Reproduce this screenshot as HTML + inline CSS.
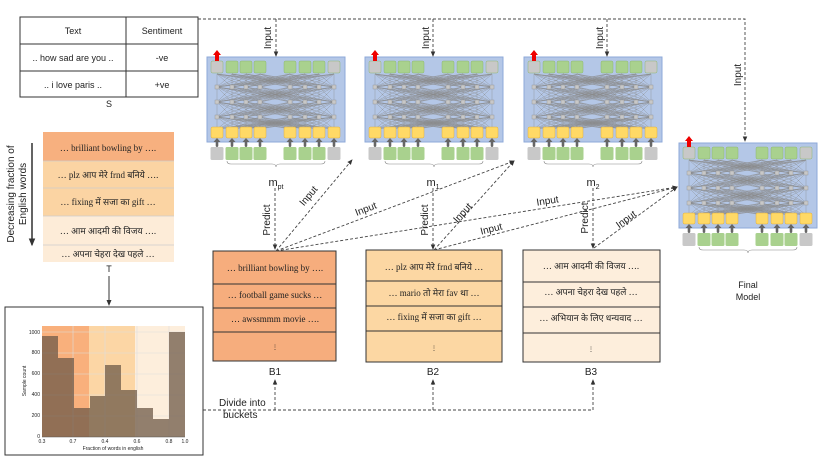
<!DOCTYPE html>
<html><head><meta charset="utf-8"><style>
html,body{margin:0;padding:0;background:#fff}
svg{display:block}
text{font-family:"Liberation Sans","Noto Sans CJK SC",sans-serif;fill:#222}
.dv{font-family:"Liberation Serif","Noto Sans CJK SC",serif}
</style></head><body>
<svg id="s" width="822" height="463" viewBox="0 0 822 463" xmlns="http://www.w3.org/2000/svg">
<defs>
<marker id="ah" markerWidth="6" markerHeight="6" refX="5" refY="3" orient="auto"><path d="M0,0.5 L6,3 L0,5.5 z" fill="#333"/></marker>
<g id="bert">
 <rect x="0" y="0" width="138" height="85" fill="#b4c7e7" stroke="#8ea9d8" stroke-width="1"/>
 <g id="net" stroke="#8a8a8a" stroke-width="0.35"></g>
 <g id="sq"></g>
</g>
</defs>

<!-- Table S -->
<g stroke="#333" stroke-width="1" fill="none">
<rect x="20" y="17" width="178" height="80"/>
<line x1="126" y1="17" x2="126" y2="97"/>
<line x1="20" y1="44" x2="198" y2="44"/>
<line x1="20" y1="71" x2="198" y2="71"/>
</g>
<g font-size="9" text-anchor="middle">
<text x="73" y="34">Text</text><text x="162" y="34">Sentiment</text>
<text x="73" y="61">.. how sad are you ..</text><text x="162" y="61">-ve</text>
<text x="73" y="88">.. i love paris ..</text><text x="162" y="88">+ve</text>
<text x="109" y="107">S</text>
</g>

<!-- T -->
<rect x="43" y="132" width="131" height="29" fill="#f7b07f"/>
<rect x="43" y="161" width="131" height="55" fill="#fbd4a3"/>
<rect x="43" y="216" width="131" height="46" fill="#fdecd8"/>
<g stroke="#ccc" stroke-width="0.8">
<line x1="43" y1="161" x2="174" y2="161"/><line x1="43" y1="188" x2="174" y2="188"/>
<line x1="43" y1="216" x2="174" y2="216"/><line x1="43" y1="245" x2="174" y2="245"/>
</g>
<g font-size="9" text-anchor="middle" class="dv">
<text class="dv" x="108" y="151">… brilliant bowling by ….</text>
<text class="dv" x="108" y="178">… plz आप मेरे frnd बनिये ….</text>
<text class="dv" x="108" y="205">… fixing में सजा का gift …</text>
<text class="dv" x="108" y="234">… आम आदमी की विजय ….</text>
<text class="dv" x="108" y="257">… अपना चेहरा देख पहले …</text>
</g>
<text x="109" y="272" font-size="9" text-anchor="middle">T</text>
<line x1="109" y1="276" x2="109" y2="305" stroke="#333" stroke-width="1" marker-end="url(#ah)"/>
<line x1="32" y1="143" x2="32" y2="245" stroke="#111" stroke-width="1.3" marker-end="url(#ah)"/>
<g font-size="10" text-anchor="middle">
<text transform="translate(14,194) rotate(-90)">Decreasing fraction of</text>
<text transform="translate(26,194) rotate(-90)">English words</text>
</g>

<!-- Histogram -->
<rect x="5" y="307" width="198" height="148" fill="#fff" stroke="#333" stroke-width="1"/>
<rect x="42" y="326" width="47" height="111" fill="#f9b07c"/>
<rect x="89" y="326" width="46" height="111" fill="#fcd6a5"/>
<rect x="135" y="326" width="50" height="111" fill="#fdeedc"/>
<g stroke="#ddd" stroke-width="0.6">
<line x1="42" y1="416" x2="185" y2="416"/><line x1="42" y1="395" x2="185" y2="395"/>
<line x1="42" y1="374" x2="185" y2="374"/><line x1="42" y1="353" x2="185" y2="353"/>
<line x1="42" y1="332" x2="185" y2="332"/>
<line x1="73" y1="326" x2="73" y2="437"/><line x1="105" y1="326" x2="105" y2="437"/>
<line x1="137" y1="326" x2="137" y2="437"/><line x1="169" y1="326" x2="169" y2="437"/>
</g>
<g fill="#6e5a48" fill-opacity="0.75">
<rect x="42" y="336" width="16" height="101"/>
<rect x="58" y="358" width="16" height="79"/>
<rect x="74" y="408" width="16" height="29"/>
<rect x="90" y="396" width="15" height="41"/>
<rect x="105" y="365" width="16" height="72"/>
<rect x="121" y="390" width="16" height="47"/>
<rect x="137" y="408" width="16" height="29"/>
<rect x="153" y="419" width="16" height="18"/>
<rect x="169" y="332" width="16" height="105"/>
</g>
<line x1="42" y1="437" x2="185" y2="437" stroke="#555" stroke-width="0.6"/>
<g font-size="5" text-anchor="middle" fill="#444">
<text x="42" y="443">0.3</text><text x="73" y="443">0.7</text><text x="105" y="443">0.4</text><text x="137" y="443">0.6</text><text x="169" y="443">0.8</text><text x="185" y="443">1.0</text>
<text x="113" y="450">Fraction of words in english</text>
</g>
<g font-size="5" text-anchor="end" fill="#444">
<text x="40" y="438">0</text><text x="40" y="417">200</text><text x="40" y="396">400</text><text x="40" y="375">600</text><text x="40" y="354">800</text><text x="40" y="334">1000</text>
</g>
<text transform="translate(26,381) rotate(-90)" font-size="5" text-anchor="middle" fill="#444">Sample count</text>

<!-- BERT blocks -->
<use href="#bert" x="207" y="57"/>
<use href="#bert" x="365" y="57"/>
<use href="#bert" x="524" y="57"/>
<use href="#bert" x="679" y="143"/>
<g font-size="11" text-anchor="middle">
<text x="276" y="186">m<tspan font-size="7" dy="3">pt</tspan></text>
<text x="433" y="186">m<tspan font-size="7" dy="3">1</tspan></text>
<text x="593" y="186">m<tspan font-size="7" dy="3">2</tspan></text>
<text x="748" y="288" font-size="9">Final</text>
<text x="748" y="300" font-size="9">Model</text>
</g>

<!-- Buckets -->
<g stroke="#333" stroke-width="1">
<rect x="213" y="251" width="123" height="110" fill="#f6ad7d"/>
<line x1="213" y1="284" x2="336" y2="284"/><line x1="213" y1="308" x2="336" y2="308"/><line x1="213" y1="332" x2="336" y2="332"/>
<rect x="366" y="250" width="136" height="112" fill="#fcd7a3"/>
<line x1="366" y1="281" x2="502" y2="281"/><line x1="366" y1="306" x2="502" y2="306"/><line x1="366" y1="331" x2="502" y2="331"/>
<rect x="523" y="250" width="137" height="112" fill="#fdeedc"/>
<line x1="523" y1="282" x2="660" y2="282"/><line x1="523" y1="307" x2="660" y2="307"/><line x1="523" y1="333" x2="660" y2="333"/>
</g>
<g font-size="9" text-anchor="middle">
<text class="dv" x="275" y="271">… brilliant bowling by ….</text>
<text class="dv" x="275" y="298">… football game sucks …</text>
<text class="dv" x="275" y="322">… awssmmm movie ….</text>
<text x="275" y="349" font-size="6">⋮</text>
<text class="dv" x="434" y="270">…  plz आप मेरे frnd बनिये …</text>
<text class="dv" x="434" y="296">… mario तो मेरा fav था …</text>
<text class="dv" x="434" y="320">… fixing में सजा का gift …</text>
<text x="434" y="350" font-size="6">⋮</text>
<text class="dv" x="591" y="269">… आम आदमी की विजय ….</text>
<text class="dv" x="591" y="295">… अपना चेहरा देख पहले …</text>
<text class="dv" x="591" y="321">… अभियान के लिए धन्यवाद …</text>
<text x="591" y="351" font-size="6">⋮</text>
<text x="275" y="375" font-size="10">B1</text>
<text x="433" y="375" font-size="10">B2</text>
<text x="591" y="375" font-size="10">B3</text>
</g>

<!-- Dashed connectors -->
<g stroke="#444" stroke-width="0.9" stroke-dasharray="3,2" fill="none">
<polyline points="198,19 745,19 745,141" marker-end="url(#ah)"/>
<line x1="276" y1="19" x2="276" y2="56" marker-end="url(#ah)"/>
<line x1="433" y1="19" x2="433" y2="56" marker-end="url(#ah)"/>
<line x1="607" y1="19" x2="607" y2="56" marker-end="url(#ah)"/>
<polyline points="203,410 593,410"/>
<line x1="275" y1="410" x2="275" y2="380" marker-end="url(#ah)"/>
<line x1="433" y1="410" x2="433" y2="380" marker-end="url(#ah)"/>
<line x1="593" y1="410" x2="593" y2="380" marker-end="url(#ah)"/>
<line x1="275" y1="188" x2="275" y2="249" marker-end="url(#ah)"/>
<line x1="433" y1="188" x2="433" y2="249" marker-end="url(#ah)"/>
<line x1="593" y1="188" x2="593" y2="248" marker-end="url(#ah)"/>
<line x1="276" y1="251" x2="352" y2="160" marker-end="url(#ah)"/>
<line x1="276" y1="251" x2="514" y2="161" marker-end="url(#ah)"/>
<line x1="276" y1="251" x2="677" y2="187" marker-end="url(#ah)"/>
<line x1="434" y1="250" x2="514" y2="161" marker-end="url(#ah)"/>
<line x1="434" y1="250" x2="677" y2="187" marker-end="url(#ah)"/>
<line x1="594" y1="248" x2="677" y2="187" marker-end="url(#ah)"/>
</g>
<g font-size="10" text-anchor="middle">
<text transform="translate(271,38) rotate(-90)">Input</text>
<text transform="translate(429,38) rotate(-90)">Input</text>
<text transform="translate(603,38) rotate(-90)">Input</text>
<text transform="translate(741,75) rotate(-90)">Input</text>
<text transform="translate(270,220) rotate(-90)">Predict</text>
<text transform="translate(428,220) rotate(-90)">Predict</text>
<text transform="translate(588,218) rotate(-90)">Predict</text>
<text transform="translate(311,198) rotate(-50)">Input</text>
<text transform="translate(367,212) rotate(-21)">Input</text>
<text transform="translate(465,215) rotate(-48)">Input</text>
<text transform="translate(548,204) rotate(-9)">Input</text>
<text transform="translate(492,232) rotate(-14)">Input</text>
<text transform="translate(628,222) rotate(-36)">Input</text>
</g>
<g font-size="10">
<text x="219" y="406">Divide into</text>
<text x="223" y="418">buckets</text>
</g>
</svg>
<script>
(function(){
var ns="http://www.w3.org/2000/svg";
var net=document.getElementById('net'),sq=document.getElementById('sq');
var cx=[10,25,39,53,83,98,112,127];
var rows=[17,30,45,60,72];
for(var r=0;r<rows.length-1;r++){
 for(var i=0;i<8;i++)for(var j=0;j<8;j++){
  var l=document.createElementNS(ns,'line');
  l.setAttribute('x1',cx[i]);l.setAttribute('y1',rows[r]);
  l.setAttribute('x2',cx[j]);l.setAttribute('y2',rows[r+1]);
  net.appendChild(l);
 }
}
for(var r=1;r<4;r++)for(var i=0;i<8;i++){
 var c=document.createElementNS(ns,'rect');
 c.setAttribute('x',cx[i]-2);c.setAttribute('y',rows[r]-2);c.setAttribute('width',4);c.setAttribute('height',4);c.setAttribute('fill','#c8c8c8');
 net.appendChild(c);
}
function R(x,y,w,h,f,s){var e=document.createElementNS(ns,'rect');e.setAttribute('x',x);e.setAttribute('y',y);e.setAttribute('width',w);e.setAttribute('height',h);e.setAttribute('fill',f);e.setAttribute('rx',1.5);if(s){e.setAttribute('stroke',s);e.setAttribute('stroke-width',0.5);}sq.appendChild(e);}
for(var i=0;i<8;i++){
 var top=(i==0||i==7)?'#c8c8c8':'#a9d18e';
 R(cx[i]-6,4,12,12,top,'#8db870');
 R(cx[i]-6,70,12,11,'#ffd966','#e0b040');
 R(cx[i]-1.3,84,2.6,6,'#666');
 var a=document.createElementNS(ns,'path');a.setAttribute('d','M'+(cx[i]-3.5)+',85 L'+cx[i]+',81 L'+(cx[i]+3.5)+',85z');a.setAttribute('fill','#666');sq.appendChild(a);
 var inp=(i==0||i==7)?'#c8c8c8':'#a9d18e';
 R(cx[i]-6.5,90,13,13,inp,null);
}
var br=document.createElementNS(ns,'path');br.setAttribute('d','M20,104 q0,3 4,3 L65,107 q4,0 4,3 q0,-3 4,-3 L114,107 q4,0 4,-3');br.setAttribute('fill','none');br.setAttribute('stroke','#888');br.setAttribute('stroke-width','0.6');sq.appendChild(br);
var ar=document.createElementNS(ns,'path');ar.setAttribute('d','M8,4 L8,-2 L6,-2 L10,-7 L14,-2 L12,-2 L12,4z');ar.setAttribute('fill','#e00');sq.appendChild(ar);
})();
</script>
</body></html>
